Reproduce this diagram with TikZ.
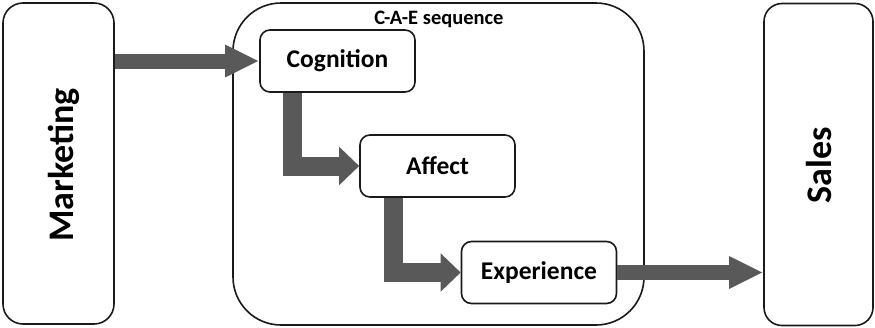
\documentclass[tikz,border=0pt]{standalone}
\usepackage{fontspec}
\setmainfont{Carlito}
\usetikzlibrary{arrows.meta}
\definecolor{arrowgray}{HTML}{595959}
\definecolor{linecol}{HTML}{1A1A1A}
\begin{document}
\begin{tikzpicture}[x=1pt,y=-1pt,
  frame/.style={draw=linecol, line width=1.6pt, rounded corners=#1, inner sep=0pt},
  stagebox/.style={frame=10pt, minimum width=155pt, minimum height=62pt,
    font=\bfseries\fontsize{25.5}{27}\selectfont},
  sidetext/.style={rotate=90, font=\bfseries\fontsize{36}{38}\selectfont, inner sep=0pt},
  fatstraight/.style={draw=arrowgray, line width=15pt, -{Triangle[length=34pt,width=30pt]}},
  fatelbow/.style={draw=arrowgray, line width=19pt, line join=miter, -{Triangle[length=20pt,width=37pt]}}
]
\useasboundingbox (0,0) rectangle (875,327);
% container
\node[frame=48pt, minimum width=411pt, minimum height=322pt] (cae) at (438.5,164) {};
\node[font=\bfseries\fontsize{20.5}{22}\selectfont, inner sep=0pt] (title) at (439,19) {C-A-E sequence};
% side boxes
\node[frame=20pt, minimum width=111pt, minimum height=321pt] (mkt) at (58.5,163.5) {};
\node[sidetext] (mkttext) at (63.5,165) {Marketing};
\node[frame=18pt, minimum width=109pt, minimum height=322pt] (sales) at (818.5,164.5) {};
\node[sidetext] (salestext) at (819,165) {Sales};
% stage boxes
\node[stagebox] (cog) at (337.5,61) {Cognition};
\node[stagebox] (aff) at (437.5,166) {Affect};
\node[stagebox] (exp) at (539,272.5) {Experience};
% arrows
\draw[fatstraight] (mkt.east |- cog.west) -- (cog.west);
\draw[fatelbow] ([xshift=33pt]cog.south west) |- (aff.west);
\draw[fatelbow] ([xshift=34pt]aff.south west) |- (exp.west);
\draw[fatstraight] (exp.east) -- (exp.east -| sales.west);
\end{tikzpicture}
\end{document}
